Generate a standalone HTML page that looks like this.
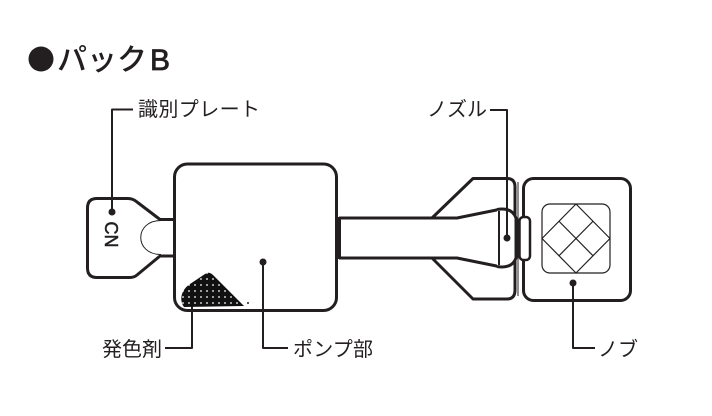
<!DOCTYPE html>
<html><head><meta charset="utf-8"><style>
html,body{margin:0;padding:0;background:#fff;}
svg{display:block;}
text{font-family:"Liberation Sans","Noto Sans CJK JP",sans-serif;fill:#231f20;}
</style></head><body>
<svg width="712" height="416" viewBox="0 0 712 416" xmlns="http://www.w3.org/2000/svg">
<defs>
<pattern id="dots" width="6" height="6" patternUnits="userSpaceOnUse">
<rect width="6" height="6" fill="#111"/>
<circle cx="3" cy="3" r="0.9" fill="#fff"/>
</pattern>
</defs>
<!-- title -->
<circle cx="41" cy="59" r="12.5" fill="#231f20"/>
<text x="57" y="70" font-size="30" font-weight="500"><tspan>パック</tspan><tspan x="150" stroke="#231f20" stroke-width="0.8">B</tspan></text>

<g fill="none" stroke="#231f20" stroke-linejoin="round" stroke-linecap="butt">
<!-- plate -->
<path d="M175,219.5 L160,219.5 L137,202 Q133,198.5 128,198.5 L97,198.5 Q87.5,198.5 87.5,208 L87.5,268 Q87.5,277.5 97,277.5 L130,277.5 Q134,277.5 137,275 L160,256 L175,256" stroke-width="3"/>
<path d="M161,220.5 C134,220.5 134,254.5 161,254.5" stroke-width="1"/>
<!-- pump box -->
<rect x="174.5" y="164" width="162" height="146.5" rx="13" stroke-width="3"/>
<!-- tube -->
<path d="M339,218 L457,218 L499,209.5" stroke-width="3"/>
<path d="M339,258 L457,258 L499,266.5" stroke-width="3"/>
<line x1="339.5" y1="217" x2="339.5" y2="259" stroke-width="3"/>
<!-- housing -->
<path d="M432,218 L473,178.5 L507,178.5 Q515,178.5 515,187 L515,290 Q515,299 507,299 L473,299 L432,258" stroke-width="3"/>
<line x1="518" y1="182" x2="518" y2="296" stroke-width="1"/>
<!-- nozzle head -->
<path d="M497,209.5 Q512,207 516,218 L516,258 Q512,269 497,266.5" stroke-width="3" fill="#fff"/>
<line x1="499" y1="211" x2="499" y2="265" stroke-width="2"/>
<!-- knob -->
<rect x="523.5" y="178.5" width="107" height="122" rx="10" stroke-width="3" fill="#fff"/>
<rect x="519.5" y="217" width="10.5" height="43" rx="4" stroke-width="2.5" fill="#fff"/>
<rect x="542" y="204" width="68" height="69" rx="8" stroke-width="1.2"/>
<path d="M576,204 L610,238.5 L576,273 L542,238.5 Z" stroke-width="1.2"/>
<line x1="559" y1="221.25" x2="593" y2="255.75" stroke-width="1.2"/>
<line x1="593" y1="221.25" x2="559" y2="255.75" stroke-width="1.2"/>
<!-- leaders -->
<path d="M112,212 L112,109.5 L133,109.5" stroke-width="2"/>
<path d="M507,238 L507,110 L490,110" stroke-width="2"/>
<path d="M573,283 L573,348 L595,348" stroke-width="2"/>
<path d="M263,262 L263,348 L288,348" stroke-width="2"/>
<path d="M192,305 L192,348 L165,348" stroke-width="2"/>
</g>
<!-- powder -->
<path d="M184,307 C179,300 181,290 190,284 L205,274 Q209,271 213,275 L244,306 Z" fill="url(#dots)"/>
<circle cx="248" cy="303" r="1" fill="#231f20"/>
<!-- dots -->
<g fill="#231f20">
<circle cx="112" cy="212" r="3.5"/>
<circle cx="507" cy="238" r="3.5"/>
<circle cx="573" cy="283" r="3.5"/>
<circle cx="263" cy="262" r="3.5"/>
</g>
<!-- CN -->
<text x="0" y="0" font-size="18" text-anchor="middle" stroke="#231f20" stroke-width="0.5" transform="translate(105,234.5) rotate(90)">CN</text>
<!-- labels -->
<text x="138" y="116" font-size="20" textLength="122">識別プレート</text>
<text x="427" y="116" font-size="20" textLength="60">ノズル</text>
<text x="102" y="356" font-size="20" textLength="60">発色剤</text>
<text x="293" y="356" font-size="20" textLength="80">ポンプ部</text>
<text x="598" y="356" font-size="20" textLength="40">ノブ</text>
</svg>
</body></html>
